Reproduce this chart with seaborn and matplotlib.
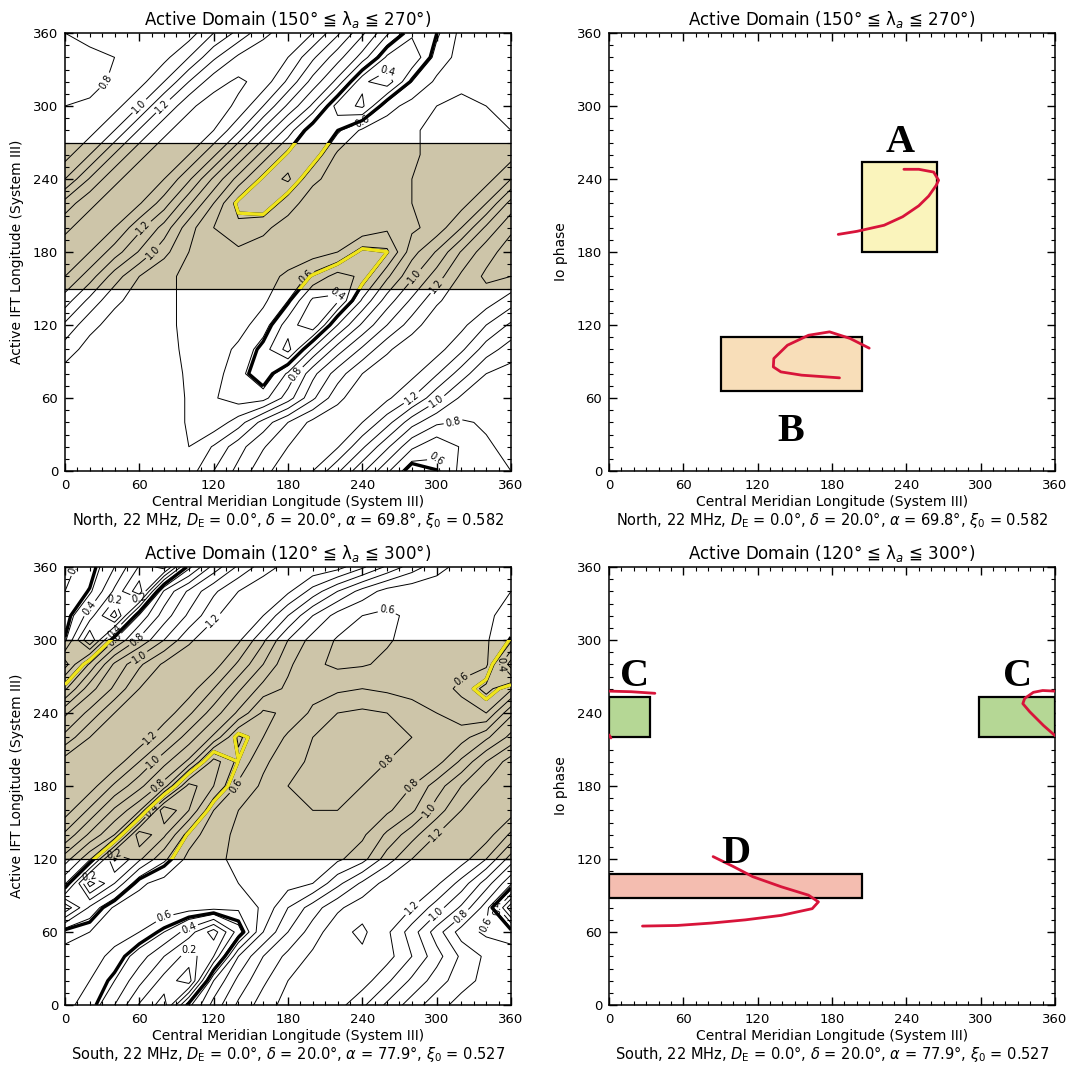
import numpy as np
import seaborn as sns
import matplotlib
matplotlib.use("Agg")
import matplotlib.pyplot as plt
from matplotlib.patches import Rectangle
from matplotlib.ticker import MultipleLocator

# ---- data -------------------------------------------------------------
# contour fields read off the left panels, sampled every 20 deg
# rows = Active IFT longitude 0..340, columns = CML 0..340 (periodic)
lon_nodes = list(range(0, 360, 20))

north_field = [
    [0.80, 0.84, 0.86, 0.86, 0.84, 0.85, 1.00, 1.13, 1.27, 1.36, 1.30, 1.12, 0.92, 0.72, 0.52, 0.58, 0.73, 0.80],
    [0.82, 0.86, 0.86, 0.86, 0.85, 0.80, 0.91, 1.06, 1.19, 1.30, 1.37, 1.31, 1.12, 0.92, 0.72, 0.62, 0.71, 0.79],
    [0.85, 0.86, 0.86, 0.86, 0.85, 0.79, 0.73, 0.85, 1.04, 1.20, 1.33, 1.38, 1.30, 1.14, 0.94, 0.82, 0.79, 0.81],
    [0.85, 0.86, 0.86, 0.86, 0.85, 0.79, 0.71, 0.65, 0.66, 0.85, 1.08, 1.27, 1.38, 1.32, 1.20, 1.03, 0.88, 0.84],
    [0.86, 0.86, 0.86, 0.85, 0.83, 0.79, 0.74, 0.64, 0.50, 0.72, 0.97, 1.15, 1.30, 1.38, 1.33, 1.21, 1.05, 0.90],
    [0.95, 0.86, 0.85, 0.85, 0.83, 0.78, 0.75, 0.68, 0.55, 0.36, 0.72, 0.95, 1.12, 1.28, 1.38, 1.34, 1.22, 1.05],
    [1.08, 0.93, 0.86, 0.85, 0.82, 0.78, 0.76, 0.74, 0.65, 0.45, 0.32, 0.70, 0.92, 1.10, 1.25, 1.38, 1.33, 1.20],
    [1.25, 1.07, 0.92, 0.86, 0.82, 0.78, 0.76, 0.75, 0.72, 0.60, 0.38, 0.38, 0.72, 0.95, 1.12, 1.28, 1.38, 1.35],
    [1.40, 1.25, 1.05, 0.90, 0.82, 0.78, 0.76, 0.75, 0.74, 0.68, 0.57, 0.46, 0.52, 0.78, 0.98, 1.15, 1.32, 1.42],
    [1.45, 1.40, 1.25, 1.09, 0.93, 0.80, 0.74, 0.72, 0.74, 0.76, 0.75, 0.70, 0.55, 0.58, 0.86, 1.01, 1.21, 1.36],
    [1.38, 1.45, 1.40, 1.23, 1.06, 0.84, 0.70, 0.63, 0.68, 0.74, 0.76, 0.77, 0.78, 0.72, 0.78, 0.84, 1.00, 1.22],
    [1.24, 1.38, 1.45, 1.41, 1.25, 1.02, 0.80, 0.55, 0.50, 0.66, 0.75, 0.77, 0.78, 0.80, 0.80, 0.82, 0.86, 1.00],
    [1.00, 1.21, 1.38, 1.45, 1.40, 1.22, 0.98, 0.76, 0.56, 0.48, 0.68, 0.74, 0.77, 0.79, 0.80, 0.82, 0.80, 0.86],
    [0.86, 1.00, 1.21, 1.38, 1.45, 1.40, 1.22, 0.98, 0.76, 0.56, 0.52, 0.72, 0.76, 0.78, 0.79, 0.82, 0.82, 0.80],
    [0.80, 0.86, 1.00, 1.21, 1.38, 1.45, 1.40, 1.22, 0.98, 0.76, 0.50, 0.58, 0.72, 0.76, 0.79, 0.82, 0.82, 0.82],
    [0.80, 0.81, 0.86, 1.00, 1.21, 1.38, 1.45, 1.38, 1.20, 0.98, 0.78, 0.45, 0.38, 0.66, 0.74, 0.80, 0.81, 0.80],
    [0.77, 0.78, 0.81, 0.86, 1.00, 1.20, 1.36, 1.42, 1.36, 1.18, 0.96, 0.77, 0.42, 0.34, 0.60, 0.72, 0.79, 0.78],
    [0.77, 0.77, 0.80, 0.82, 0.87, 1.00, 1.18, 1.32, 1.38, 1.30, 1.12, 0.94, 0.76, 0.48, 0.42, 0.64, 0.74, 0.78],
]

south_field = [
    [0.62, 0.57, 0.40, 0.19, 0.05, 0.57, 0.84, 1.02, 1.15, 1.24, 1.28, 1.24, 1.12, 0.98, 0.85, 0.74, 0.66, 0.63],
    [0.62, 0.60, 0.50, 0.33, 0.16, 0.04, 0.70, 0.93, 1.08, 1.20, 1.26, 1.28, 1.25, 1.12, 0.98, 0.85, 0.74, 0.67],
    [0.63, 0.63, 0.58, 0.45, 0.30, 0.15, 0.30, 0.80, 1.00, 1.13, 1.22, 1.27, 1.28, 1.24, 1.10, 0.94, 0.78, 0.68],
    [0.57, 0.60, 0.63, 0.60, 0.50, 0.35, 0.15, 0.45, 0.80, 1.00, 1.15, 1.27, 1.32, 1.22, 1.05, 0.85, 0.65, 0.58],
    [0.12, 0.42, 0.62, 0.65, 0.66, 0.64, 0.63, 0.62, 0.72, 0.90, 1.05, 1.18, 1.26, 1.28, 1.20, 1.05, 0.88, 0.65],
    [0.62, 0.05, 0.30, 0.58, 0.64, 0.66, 0.68, 0.70, 0.74, 0.76, 0.80, 0.97, 1.12, 1.24, 1.28, 1.22, 1.06, 0.85],
    [0.85, 0.62, 0.08, 0.28, 0.48, 0.63, 0.68, 0.72, 0.75, 0.78, 0.78, 0.78, 0.86, 1.05, 1.20, 1.28, 1.25, 1.10],
    [1.08, 0.88, 0.70, 0.12, 0.28, 0.55, 0.66, 0.72, 0.76, 0.80, 0.80, 0.78, 0.78, 0.92, 1.06, 1.20, 1.28, 1.25],
    [1.25, 1.08, 0.88, 0.72, 0.10, 0.30, 0.60, 0.70, 0.76, 0.80, 0.80, 0.80, 0.78, 0.78, 0.88, 1.05, 1.20, 1.28],
    [1.28, 1.25, 1.08, 0.93, 0.76, 0.25, 0.40, 0.62, 0.72, 0.80, 0.82, 0.82, 0.80, 0.78, 0.80, 0.95, 1.10, 1.22],
    [1.25, 1.28, 1.26, 1.10, 0.93, 0.78, 0.35, 0.53, 0.68, 0.76, 0.82, 0.84, 0.82, 0.80, 0.78, 0.76, 0.92, 1.10],
    [1.03, 1.20, 1.28, 1.27, 1.12, 0.95, 0.78, 0.48, 0.60, 0.72, 0.80, 0.84, 0.84, 0.82, 0.80, 0.76, 0.76, 0.88],
    [0.88, 1.03, 1.20, 1.28, 1.26, 1.12, 0.95, 0.78, 0.58, 0.62, 0.72, 0.80, 0.82, 0.80, 0.75, 0.70, 0.64, 0.60],
    [0.58, 0.86, 1.02, 1.20, 1.28, 1.25, 1.10, 0.92, 0.76, 0.68, 0.66, 0.68, 0.70, 0.68, 0.66, 0.64, 0.58, 0.47],
    [0.25, 0.62, 0.92, 1.08, 1.22, 1.28, 1.25, 1.08, 0.90, 0.72, 0.62, 0.58, 0.59, 0.62, 0.63, 0.64, 0.63, 0.62],
    [0.52, 0.10, 0.60, 0.82, 1.00, 1.18, 1.28, 1.22, 1.02, 0.80, 0.66, 0.59, 0.57, 0.59, 0.63, 0.64, 0.63, 0.61],
    [0.58, 0.35, 0.05, 0.62, 0.85, 1.02, 1.18, 1.28, 1.20, 1.00, 0.80, 0.66, 0.60, 0.58, 0.62, 0.63, 0.63, 0.61],
    [0.60, 0.52, 0.28, 0.03, 0.72, 0.92, 1.08, 1.20, 1.28, 1.22, 1.06, 0.90, 0.76, 0.66, 0.63, 0.63, 0.62, 0.61],
]

north_band = [150, 270]
south_band = [120, 300]
north_xi0 = 0.582
south_xi0 = 0.527

# right panels: source boxes (cml from, cml to, phase from, phase to)
box_A = [204, 265, 180, 254]
box_B = [90, 204, 66, 110]
box_C_left = [0, 33, 220, 253]
box_C_right = [299, 360, 220, 253]
box_D = [0, 204, 88, 108]

# red curves (CML, Io phase)
curve_A_cml = [185, 200, 222, 237, 250, 258, 264, 266, 262, 250, 238]
curve_A_phase = [194.5, 197, 202, 209, 218, 226, 234.7, 239, 245.7, 248, 248]
curve_B_cml = [210, 194.5, 178, 161, 144, 133, 132.6, 138.7, 155.5, 186]
curve_B_phase = [101, 109, 114.4, 111.6, 103.4, 92.5, 85.6, 81.5, 78.8, 76.6]
curve_C1_cml = [0, 18, 37]
curve_C1_phase = [258, 257.5, 256.2]
curve_C2_cml = [360, 350, 342.5, 335.5, 334, 339.6, 350.7, 360]
curve_C2_phase = [258, 258.5, 257, 252, 247.7, 241, 229.7, 221.4]
curve_C3_cml = [0, 1.5]
curve_C3_phase = [222, 219.5]
curve_D_cml = [84, 100, 116, 139, 161, 169, 164, 139, 110, 83, 55, 27]
curve_D_phase = [122, 114, 105.5, 97.2, 90.3, 84.8, 79.2, 73.7, 70, 67.4, 65.4, 64.9]

# ---- style ------------------------------------------------------------
sns.set_theme(style="white")
plt.rcParams["font.family"] = ["DejaVu Sans"]
plt.rcParams["mathtext.fontset"] = "dejavusans"
for k in ("text.color", "axes.labelcolor", "xtick.color", "ytick.color"):
    plt.rcParams[k] = "black"

band_color = "#cdc5a9"
yellow = "#efe41c"
red = "#d8143a"
levels = np.round(np.arange(1, 20) * 0.1, 1)
label_levels = levels[1:12:2]


def frame(ax, title, ylabel, note):
    ax.set_xlim(0, 360)
    ax.set_ylim(0, 360)
    for a in (ax.xaxis, ax.yaxis):
        a.set_major_locator(MultipleLocator(60))
        a.set_minor_locator(MultipleLocator(10))
    ax.tick_params(which="both", direction="in", top=True, right=True,
                   bottom=True, left=True, colors="black", labelsize=9.5)
    ax.tick_params(which="major", length=6, width=1)
    ax.tick_params(which="minor", length=3.2, width=0.8)
    ax.tick_params(axis="x", pad=6)
    ax.tick_params(axis="y", pad=5)
    for s in ax.spines.values():
        s.set_color("black")
        s.set_linewidth(1.1)
    ax.set_title(title, fontsize=12, pad=6, color="black")
    ax.set_xlabel("Central Meridian Longitude (System III)", fontsize=10, labelpad=2)
    ax.set_ylabel(ylabel, fontsize=10, labelpad=6)
    ax.text(0.5, -0.112, note, transform=ax.transAxes, ha="center", va="center",
            fontsize=10.5)


def draw_field(ax, field, band, xi0):
    z = np.array(field)
    z = np.vstack([z, z[:1]])
    z = np.hstack([z, z[:, :1]])
    g = np.array(lon_nodes + [360])
    ax.axhspan(band[0], band[1], color=band_color, lw=0, zorder=0)
    cs = ax.contour(g, g, z, levels=levels, colors="black", linewidths=0.7, zorder=2)
    ax.clabel(cs, levels=label_levels, fmt="%.1f", fontsize=7, inline=True,
              inline_spacing=2)
    ax.contour(g, g, z, levels=[xi0], colors="black", linewidths=2.4, zorder=3)
    ys = ax.contour(g, g, z, levels=[xi0], colors=yellow, linewidths=2.4, zorder=4)
    ys.set_clip_path(Rectangle((0, band[0]), 360, band[1] - band[0],
                               transform=ax.transData))
    for b in band:
        ax.axhline(b, color="black", lw=0.9, zorder=3)


def draw_box(ax, box, color):
    ax.add_patch(Rectangle((box[0], box[2]), box[1] - box[0], box[3] - box[2],
                           facecolor=color, edgecolor="black", lw=1.6, zorder=2))


def draw_curve(ax, xs, ys):
    sns.lineplot(x=xs, y=ys, ax=ax, sort=False, estimator=None, color=red,
                 linewidth=2, zorder=3)


def letter(ax, x, y, s):
    ax.text(x, y, s, ha="center", va="baseline", fontsize=29, fontweight="bold",
            family=["Liberation Serif", "DejaVu Serif"], zorder=4)


fig = plt.figure(figsize=(10.81, 10.65), dpi=100)
ax_nl = fig.add_axes([0.0601, 0.5577, 0.4126, 0.4113])
ax_nr = fig.add_axes([0.5634, 0.5577, 0.4126, 0.4113])
ax_sl = fig.add_axes([0.0601, 0.0563, 0.4126, 0.4113])
ax_sr = fig.add_axes([0.5634, 0.0563, 0.4126, 0.4113])

t_north = "Active Domain (150° ≦ λ$_a$ ≦ 270°)"
t_south = "Active Domain (120° ≦ λ$_a$ ≦ 300°)"
n_north = (r"North, 22 MHz, $D_{\rm E}$ = 0.0°, $\delta$ = 20.0°, "
           r"$\alpha$ = 69.8°, $\xi_0$ = 0.582")
n_south = (r"South, 22 MHz, $D_{\rm E}$ = 0.0°, $\delta$ = 20.0°, "
           r"$\alpha$ = 77.9°, $\xi_0$ = 0.527")

draw_field(ax_nl, north_field, north_band, north_xi0)
frame(ax_nl, t_north, "Active IFT Longitude (System III)", n_north)
draw_field(ax_sl, south_field, south_band, south_xi0)
frame(ax_sl, t_south, "Active IFT Longitude (System III)", n_south)

draw_box(ax_nr, box_A, "#faf4bc")
draw_box(ax_nr, box_B, "#f8deb9")
draw_curve(ax_nr, curve_A_cml, curve_A_phase)
draw_curve(ax_nr, curve_B_cml, curve_B_phase)
letter(ax_nr, 235, 262, "A")
letter(ax_nr, 147, 25, "B")
frame(ax_nr, t_north, "Io phase", n_north)

draw_box(ax_sr, box_C_left, "#b5d795")
draw_box(ax_sr, box_C_right, "#b5d795")
draw_box(ax_sr, box_D, "#f4bdb0")
draw_curve(ax_sr, curve_C1_cml, curve_C1_phase)
draw_curve(ax_sr, curve_C2_cml, curve_C2_phase)
draw_curve(ax_sr, curve_C3_cml, curve_C3_phase)
draw_curve(ax_sr, curve_D_cml, curve_D_phase)
letter(ax_sr, 21, 262, "C")
letter(ax_sr, 330, 262, "C")
letter(ax_sr, 102, 117, "D")
frame(ax_sr, t_south, "Io phase", n_south)

fig.savefig("out.png", dpi=100)
